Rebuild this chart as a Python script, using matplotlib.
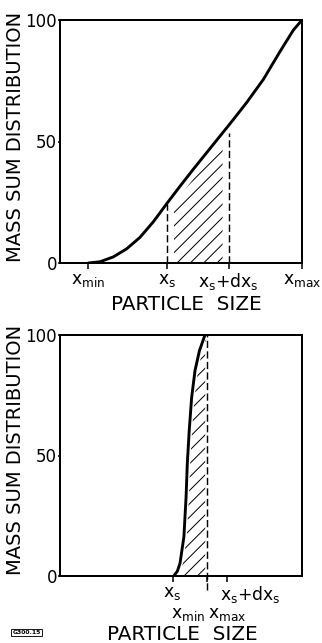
import numpy as np
import matplotlib
matplotlib.use("Agg")
import matplotlib.pyplot as plt

plt.rcParams['font.family'] = ['DejaVu Sans']
plt.rcParams['hatch.linewidth'] = 0.9
plt.rcParams['hatch.color'] = '#444444'
plt.rcParams['mathtext.default'] = 'regular'

# Top panel: broad distribution (x normalised 0..1, y in %)
top_x = [0.117, 0.165, 0.220, 0.275, 0.330, 0.386, 0.441, 0.496, 0.551,
         0.606, 0.661, 0.716, 0.771, 0.840, 0.909, 0.964, 1.0]
top_y = [0, 0.5, 2.5, 5.8, 10.5, 17.0, 24.4, 31.6, 38.6,
         45.4, 52.2, 59.0, 66.0, 75.5, 87.0, 95.8, 100]
top_ticks = [0.117, 0.441, 0.697, 1.0]
top_ticklabels = ['$x_{min}$', '$x_s$', '$x_s$+d$x_s$', '$x_{max}$']
top_xs, top_xsdx = 0.441, 0.697

# Bottom panel: narrow distribution
bot_x = [0.470, 0.485, 0.496, 0.512, 0.521, 0.526, 0.534, 0.544, 0.558, 0.576, 0.599]
bot_y = [0, 2.0, 5.3, 16.3, 32.8, 46.6, 60.4, 74.1, 85.3, 93.4, 100]
bot_ticks = [0.467, 0.606, 0.689]
bot_xmax = 0.606

yticks = [0, 50, 100]

W, H, DPI = 322, 643, 80
fig = plt.figure(figsize=(W / DPI, H / DPI), dpi=DPI)

DASH = (0, (5, 2.3))


def make_axes(left, top, right, bottom):
    ax = fig.add_axes([left / W, 1 - bottom / H, (right - left) / W, (bottom - top) / H])
    ax.set_xlim(0, 1)
    ax.set_ylim(0, 100)
    for s in ax.spines.values():
        s.set_linewidth(1.8)
    ax.set_yticks(yticks)
    ax.set_yticklabels([str(v) for v in yticks], fontsize=15)
    ax.tick_params(axis='y', length=2, width=1.4, pad=0.5)
    ax.tick_params(axis='x', length=5.5, width=1.4, direction='out', pad=2)
    return ax


# ---- top panel
ax1 = make_axes(60, 20, 302, 263)
ax1.plot(top_x, top_y, color='black', lw=2.6, solid_capstyle='round')
xs_y = np.interp(top_xs, top_x, top_y)
xd_y = np.interp(top_xsdx, top_x, top_y)
ax1.plot([top_xs, top_xs], [0, xs_y], color='black', lw=1.3, ls=DASH)
ax1.plot([top_xsdx, top_xsdx], [0, xd_y - 3], color='black', lw=1.3, ls=DASH)
xf = [top_xs + 0.03] + [x for x in top_x if top_xs + 0.03 < x < top_xsdx - 0.025] + [top_xsdx - 0.025]
yf = [np.interp(x, top_x, top_y) - 4 for x in xf]
ax1.fill_between(xf, 0, yf, facecolor='none', hatch='//', lw=0)
ax1.set_xticks(top_ticks)
ax1.set_xticklabels(top_ticklabels, fontsize=15.5)
fig.text(186 / W, 1 - 304.5 / H, 'PARTICLE  SIZE', fontsize=18, ha='center', va='center')
fig.text(15.5 / W, 1 - 136.5 / H, 'MASS SUM DISTRIBUTION', fontsize=17.5,
         rotation=90, ha='center', va='center')

# ---- bottom panel
ax2 = make_axes(60, 335, 302, 576)
ax2.plot(bot_x, bot_y, color='black', lw=2.6, solid_capstyle='round')
ax2.plot([bot_xmax, bot_xmax], [-6, 100], color='black', lw=1.3, ls=DASH, clip_on=False)
ax2.fill_betweenx(bot_y, [x + 0.012 for x in bot_x], bot_xmax - 0.006,
                  facecolor='none', hatch='//', lw=0)
ax2.set_xticks(bot_ticks)
ax2.set_xticklabels(['', '', ''])
ax2.text(0.463, -3.5, '$x_s$', fontsize=15.5, ha='center', va='top', clip_on=False)
ax2.text(0.785, -3.5, '$x_s$+d$x_s$', fontsize=15.5, ha='center', va='top', clip_on=False)
ax2.text(0.528, -12, '$x_{min}$', fontsize=15.5, ha='center', va='top', clip_on=False)
ax2.text(0.69, -12, '$x_{max}$', fontsize=15.5, ha='center', va='top', clip_on=False)
fig.text(182 / W, 1 - 634 / H, 'PARTICLE  SIZE', fontsize=18, ha='center', va='center')
fig.text(15.5 / W, 1 - 450 / H, 'MASS SUM DISTRIBUTION', fontsize=17.5,
         rotation=90, ha='center', va='center')

fig.text(26.5 / W, 1 - 632.5 / H, 'G300.15', fontsize=5.5, fontweight='bold',
         ha='center', va='center',
         bbox=dict(boxstyle='square,pad=0.15', fc='white', ec='black', lw=0.8))

fig.savefig('out.png', dpi=DPI)
